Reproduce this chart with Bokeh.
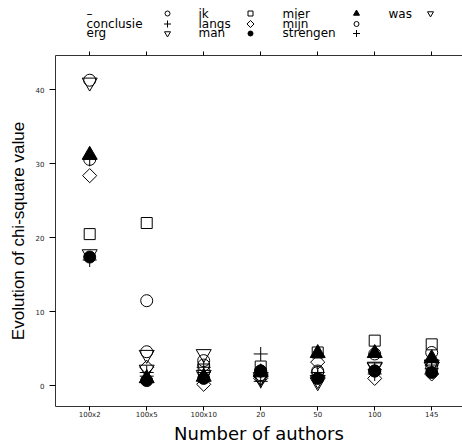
import math
from bokeh.plotting import figure
from bokeh.models import Range1d, FixedTicker, LinearAxis
from bokeh.layouts import column
from bokeh.embed import file_html
from bokeh.resources import INLINE
from bokeh.core.properties import value

# ---------------- data ----------------
categories = ["100x2", "100x5", "100x10", "20", "50", "100", "145"]
words = ["–", "conclusie", "erg", "ik", "langs", "man", "mier", "mijn", "strengen", "was"]

v_dash      = [41.3, 4.6, 3.4, 2.0, 1.8, 4.3, 2.5]
v_conclusie = [30.6, 1.3, 2.5, 4.3, 1.8, 2.2, 2.8]
v_erg       = [41.0, 4.2, 1.5, 1.2, 0.5, 2.6, 2.9]
v_ik        = [20.5, 22.0, 2.2, 2.6, 4.5, 6.1, 5.6]
v_langs     = [28.4, 2.5, 0.2, 1.0, 3.2, 1.0, 1.6]
v_man       = [17.4, 0.7, 1.0, 2.0, 1.0, 2.0, 1.8]
v_mier      = [31.2, 1.0, 1.2, 1.8, 4.4, 4.4, 3.7]
v_mijn      = [30.6, 11.5, 2.8, 1.5, 2.0, 2.0, 4.5]
v_strengen  = [17.0, 1.8, 1.8, 0.6, 1.2, 1.6, 2.3]
v_was       = [17.8, 2.2, 4.3, 0.9, 0.8, 2.5, 2.6]

series = [v_dash, v_conclusie, v_erg, v_ik, v_langs, v_man, v_mier, v_mijn, v_strengen, v_was]
y_ticks = [0, 10, 20, 30, 40]

x_title = "Number of authors"
y_title = "Evolution of chi-square value"

# ---------------- styles (lattice pch cycle) ----------------
# (marker, filled, size_main, size_legend, angle)
pch = [
    ("circle", False, 12, 5, 0),
    ("cross", False, 14, 7, 0),
    ("inverted_triangle", False, 15, 6, 0),
    ("square", False, 11, 5, 0),
    ("square", False, 10, 5, math.pi / 4),
    ("circle", True, 12, 5, 0),
    ("triangle", True, 15, 6, 0),
]

FONT = "DejaVu Sans"
AX_COL = "#333333"
W = 462
H = 446
LEFT = 55          # frame left edge (px)
LH = 47            # legend strip height
TOPB = 8           # gap above frame in main figure
BOTB = 40          # space under frame

# ---------------- legend figure ----------------
lf = figure(width=W, height=LH, x_range=Range1d(LEFT, W), y_range=Range1d(LH, 0),
            output_backend="svg", toolbar_location=None,
            x_axis_location=None, y_axis_location=None,
            min_border_left=LEFT, min_border_right=0,
            min_border_top=0, min_border_bottom=0)
lf.grid.visible = False
lf.outline_line_color = None

text_cols = [86, 198, 282, 388]
sym_cols = [167, 250, 356, 430]
text_rows = [13, 23.5, 32.5]
sym_rows = [13, 23.5, 33]
for i, w in enumerate(words):
    c, r = divmod(i, 3)
    m, filled, _, sl, ang = pch[i % 7]
    lf.text(x=[text_cols[c]], y=[text_rows[r]], text=[w], text_font=value(FONT),
            text_font_size="12px", text_baseline="alphabetic", text_align="left",
            text_color="black")
    lf.scatter(x=[sym_cols[c]], y=[sym_rows[r]], marker=m, size=sl, angle=ang,
               line_color="black", line_width=1,
               fill_color="black" if filled else None)

# ---------------- main figure ----------------
p = figure(width=W, height=H - LH,
           x_range=Range1d(-0.6, 6.54), y_range=Range1d(-2.80, 44.64),
           output_backend="svg", toolbar_location=None,
           min_border_left=LEFT, min_border_right=0,
           min_border_top=TOPB, min_border_bottom=BOTB)
p.grid.visible = False
p.outline_line_color = None

xs = list(range(len(categories)))
for i, vals in enumerate(series):
    m, filled, sm, _, ang = pch[i % 7]
    p.scatter(x=xs, y=vals, marker=m, size=sm, angle=ang,
              line_color="black", line_width=1,
              fill_color="black" if filled else None)

xa = p.xaxis[0]
xa.ticker = FixedTicker(ticks=xs)
xa.major_label_overrides = {i: c for i, c in enumerate(categories)}
xa.minor_tick_line_color = None
xa.major_tick_in = 0
xa.major_tick_out = 4
xa.major_label_standoff = 0
xa.major_label_text_font = FONT
xa.major_label_text_font_size = "7px"
xa.major_label_text_color = "#222222"
xa.axis_line_color = AX_COL
xa.major_tick_line_color = "black"
xa.axis_label = x_title
xa.axis_label_text_font = FONT
xa.axis_label_text_font_size = "18px"
xa.axis_label_text_font_style = "normal"
xa.axis_label_text_color = "black"
xa.axis_label_standoff = 1

ya = p.yaxis[0]
ya.ticker = FixedTicker(ticks=y_ticks)
ya.minor_tick_line_color = None
ya.major_tick_in = 0
ya.major_tick_out = 6
ya.major_label_standoff = 5
ya.major_label_text_font = FONT
ya.major_label_text_font_size = "7px"
ya.major_label_text_color = "#222222"
ya.axis_line_color = AX_COL
ya.major_tick_line_color = "black"
ya.axis_label = y_title
ya.axis_label_text_font = "Liberation Sans"
ya.axis_label_text_font_size = "17px"
ya.axis_label_text_font_style = "normal"
ya.axis_label_text_color = "black"
ya.axis_label_standoff = 5

top = LinearAxis(ticker=FixedTicker(ticks=xs))
top.major_label_overrides = {i: "" for i in xs}
top.major_label_text_font_size = "0px"
top.major_label_standoff = 0
top.minor_tick_line_color = None
top.major_tick_in = 0
top.major_tick_out = 4
top.axis_line_color = AX_COL
top.major_tick_line_color = "black"
p.add_layout(top, "above")

layout = column(lf, p, spacing=0)
open("out.html", "w").write(file_html(layout, INLINE))
